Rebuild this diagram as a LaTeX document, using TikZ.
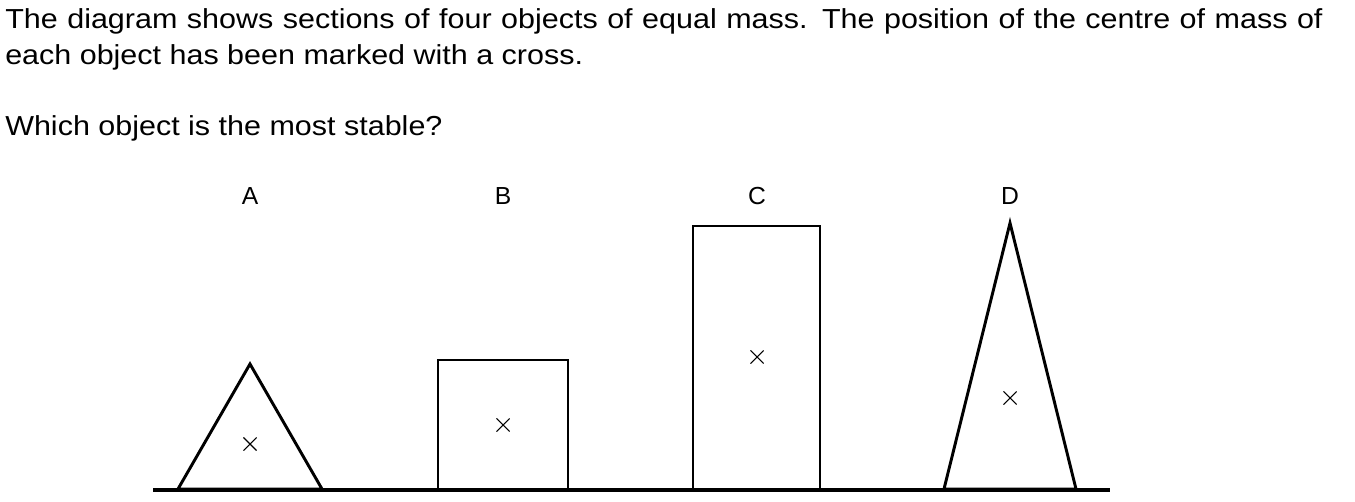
\documentclass[tikz,border=0pt]{standalone}
\usepackage{fontspec}
\setmainfont{Liberation Sans}
\newfontfamily\qfont[FakeStretch=1.11]{Liberation Sans}
\usetikzlibrary{shapes.misc,positioning}

\tikzset{
	body/.style={line width=2.2pt, line join=miter},
	ground/.style={line width=3pt},
	cmark/.style={cross out, draw, line width=0.8pt, minimum size=9pt, inner sep=0pt},
	lbl/.style={font=\fontsize{18.5}{20}\selectfont, inner sep=0pt, anchor=base},
	qtext/.style={font=\qfont\fontsize{20.6}{24}\selectfont, inner sep=0pt, anchor=base west}
}

\begin{document}
\begin{tikzpicture}[x=0.75pt, y=-0.75pt]
	\useasboundingbox (0,0) rectangle (1355,502);
	
	% question
	\node[qtext] (q1) at (5,28.5) {\makebox[988pt][s]{The diagram shows sections of four objects of equal mass. The position of the centre of mass of}};
	\node[qtext] (q2) at (5,65) {each object has been marked with a cross.};
	\node[qtext] (q3) at (5,136) {Which object is the most stable?};
	
	% ground line
	\coordinate (G1) at (153,490);
	\coordinate (G2) at (1110,490);
	
	% A: short triangle
	\coordinate (A1) at (178,489);
	\coordinate (A2) at (322,489);
	\coordinate (A3) at (250,364);
	\draw[body] (A1) -- (A2) -- (A3) -- cycle;
	\node[cmark] (cA) at (250,444) {};
	\node[lbl] (labA) at (250,205) {A};
	
	% B: square
	\coordinate (B1) at (438,489);
	\coordinate (B2) at (568,360);
	\draw[body] (B1) rectangle (B2);
	\node[cmark] (cB) at (503,425) {};
	\node[lbl] (labB) at (503,205) {B};
	
	% C: tall block
	\coordinate (C1) at (693,489);
	\coordinate (C2) at (820,226);
	\draw[body] (C1) rectangle (C2);
	\node[cmark] (cC) at (757,357) {};
	\node[lbl] (labC) at (757,205) {C};
	
	% D: tall triangle
	\coordinate (D1) at (944,489);
	\coordinate (D2) at (1076,489);
	\coordinate (D3) at (1010,223);
	\draw[body] (D1) -- (D2) -- (D3) -- cycle;
	\node[cmark] (cD) at (1010,398) {};
	\node[lbl] (labD) at (1010,205) {D};
	
	\draw[ground] (G1) -- (G2);
\end{tikzpicture}
\end{document}
